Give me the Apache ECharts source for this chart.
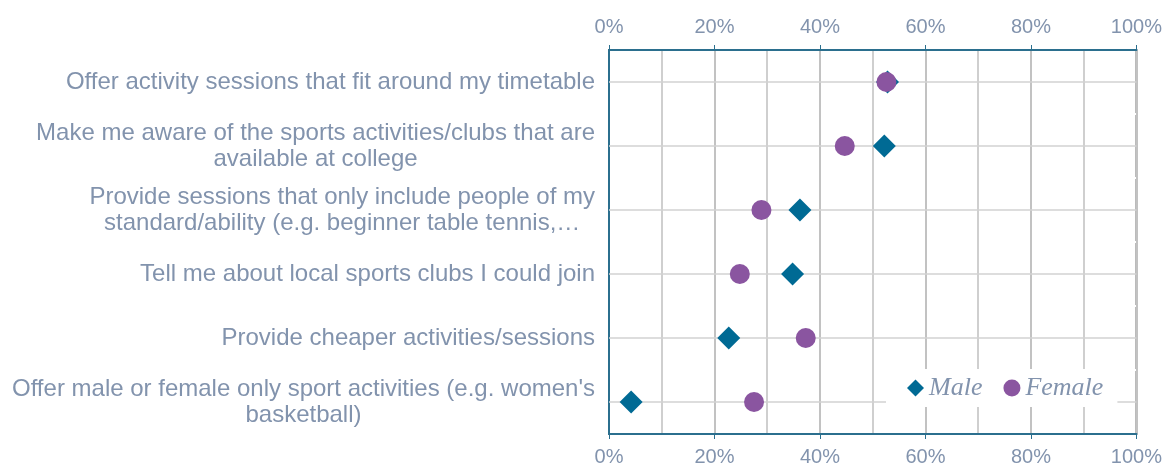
<!DOCTYPE html>
<html>
<head>
<meta charset="utf-8">
<script src="https://cdn.jsdelivr.net/npm/echarts@6/dist/echarts.min.js"></script>
<style>
  html, body { margin: 0; padding: 0; background: #fff; }
  #chart { width: 1165px; height: 470px; }
</style>
</head>
<body>
<div id="chart"></div>
<script>
// categories (top to bottom)
const categories = [
  'Offer activity sessions that fit around my timetable',
  'Make me aware of the sports activities/clubs that are\navailable at college',
  'Provide sessions that only include people of my\nstandard/ability (e.g. beginner table tennis,\u2026',
  'Tell me about local sports clubs I could join',
  'Provide cheaper activities/sessions',
  "Offer male or female only sport activities (e.g. women's\nbasketball)"
]
// percentages
const maleValues = [52.8, 52.2, 36.2, 34.8, 22.7, 4.2]
const femaleValues = [52.6, 44.7, 28.9, 24.8, 37.3, 27.5]

const labelColor = '#8293ad'
const axisColor = '#2b6f8e'

const chart = echarts.init(document.getElementById('chart'))

// x axis config shared by top and bottom
function makeXAxis(position) {
  return {
    type: 'value',
    position: position,
    min: 0,
    max: 100,
    interval: 20,
    axisLine: { show: true, lineStyle: { color: axisColor, width: 2 } },
    axisTick: { show: true, length: 5, lineStyle: { color: axisColor, width: 1 } },
    axisLabel: {
      color: labelColor,
      fontFamily: 'Liberation Sans',
      fontSize: 20,
      margin: 13,
      formatter: '{value}%'
    },
    splitLine: { show: position === 'bottom', lineStyle: { color: '#c2c2c2', width: 2 } },
    minorTick: { show: false, splitNumber: 2 },
    minorSplitLine: { show: position === 'bottom', lineStyle: { color: '#cfcfcf', width: 2 } }
  }
}

const option = {
  animation: false,
  grid: {
    left: 609,
    right: 27,
    top: 50,
    bottom: 36,
    show: true,
    borderColor: '#8a8a8a',
    borderWidth: 2,
    backgroundColor: 'transparent'
  },
  legend: {
    left: 886,
    top: 369,
    backgroundColor: '#fff',
    padding: [6, 14, 6, 21],
    itemGap: 21,
    itemWidth: 17,
    itemHeight: 17,
    textStyle: {
      color: labelColor,
      fontFamily: 'Liberation Serif',
      fontStyle: 'italic',
      fontSize: 26
    },
    data: [
      { name: 'Male', icon: 'diamond' },
      { name: 'Female', icon: 'circle' }
    ]
  },
  xAxis: [makeXAxis('top'), makeXAxis('bottom')],
  yAxis: {
    type: 'category',
    inverse: true,
    data: categories,
    axisLine: { show: true, lineStyle: { color: axisColor, width: 2 } },
    axisTick: { show: false },
    splitLine: { show: true, lineStyle: { color: '#fff', width: 2 } },
    axisLabel: {
      margin: 14,
      fontFamily: 'Liberation Sans',
      fontSize: 24,
      color: labelColor,
      lineHeight: 26,
      formatter: function (v) {
        return v.split('\n').map(function (s) { return '{c|' + s + '}' }).join('\n')
      },
      rich: {
        c: {
          align: 'center',
          color: labelColor,
          fontFamily: 'Liberation Sans',
          fontSize: 24,
          lineHeight: 26
        }
      }
    }
  },
  series: [
    {
      name: 'Male',
      type: 'scatter',
      xAxisIndex: 1,
      symbol: 'diamond',
      symbolSize: 23,
      itemStyle: { color: '#006a94', opacity: 1 },
      data: maleValues,
      z: 3,
      markLine: {
        silent: true,
        symbol: 'none',
        label: { show: false },
        lineStyle: { color: '#d2d2d2', width: 1.5, type: 'solid' },
        data: categories.map(function (c) { return { yAxis: c } }),
        z: 1
      }
    },
    {
      name: 'Female',
      type: 'scatter',
      xAxisIndex: 1,
      symbol: 'circle',
      symbolSize: 20,
      itemStyle: { color: '#8a55a0', opacity: 1 },
      data: femaleValues,
      z: 4
    }
  ]
}

chart.setOption(option)
</script>
</body>
</html>
